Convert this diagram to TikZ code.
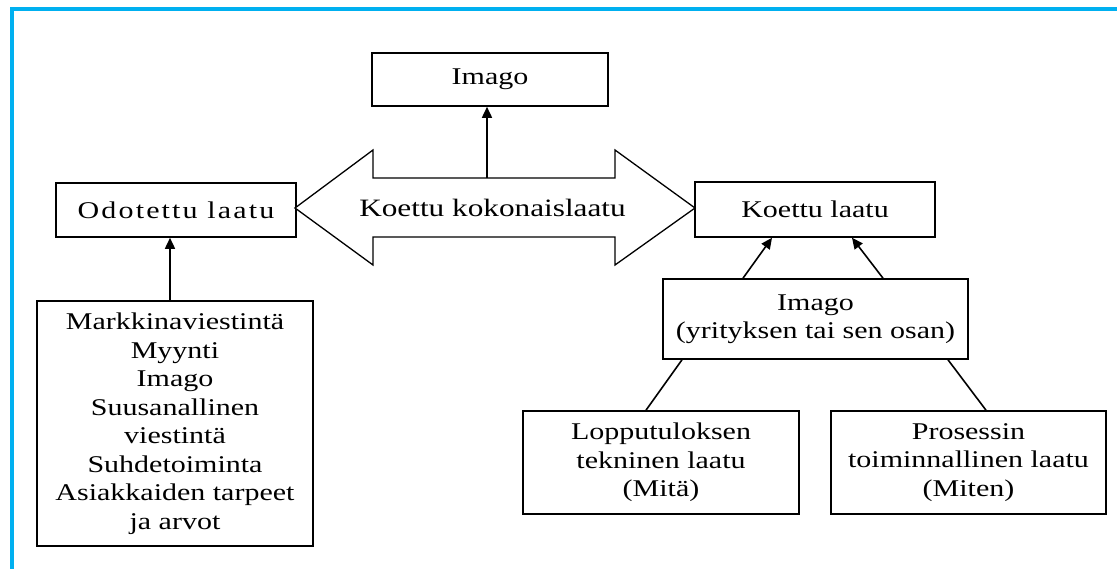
\documentclass[tikz,border=0pt]{standalone}
\usepackage{fontspec}
\setmainfont{Liberation Serif}[FakeStretch=1.25]
\usetikzlibrary{arrows.meta,calc}
\definecolor{framecyan}{HTML}{00B0F0}
\begin{document}
\begin{tikzpicture}[x=1pt,y=-1pt,
  box/.style={draw=black,line width=1.6pt,rectangle,inner sep=0pt,align=center,
    font=\fontsize{24}{28.5}\selectfont},
  link/.style={draw=black,line width=1.6pt},
  arr/.style={link,-{Triangle[length=11pt,width=10pt]}},
  txt/.style={inner sep=0pt,align=center,font=\fontsize{25}{28.5}\selectfont}]
\useasboundingbox (0,0) rectangle (1117,569);
\fill[white] (0,0) rectangle (1117,569);
% frame
\draw[framecyan,line width=4pt] (11.5,571) -- (11.5,8.7) -- (1119,8.7);
% boxes
\node[box,minimum width=236pt,minimum height=53pt] (imgtop) at (490,79.5) {Imago};
\node[box,minimum width=240pt,minimum height=54pt] (odot) at (176,210) {\addfontfeature{LetterSpace=9}Odotettu laatu};
\node[box,minimum width=240pt,minimum height=55pt] (koettu) at (815,209.5) {Koettu laatu};
\node[box,minimum width=276pt,minimum height=245pt] (left) at (175,423.5)
  {Markkinaviestintä\\Myynti\\Imago\\Suusanallinen\\viestintä\\Suhdetoiminta\\Asiakkaiden tarpeet\\ja arvot};
\node[box,minimum width=305pt,minimum height=80pt] (imago2) at (815.5,319) {Imago\\(yrityksen tai sen osan)};
\node[box,minimum width=276pt,minimum height=103pt] (lopp) at (661,462.5) {Lopputuloksen\\tekninen laatu\\(Mitä)};
\node[box,minimum width=275pt,minimum height=103pt] (pros) at (968.5,462.5) {Prosessin\\toiminnallinen laatu\\(Miten)};
% double arrow
\coordinate (ltip) at (295,208);
\coordinate (rtip) at (695,208);
\draw[line width=1.3pt,fill=white,line join=miter]
  (ltip) -- (373,150) -- (373,178) -- (615,178) -- (615,150) -- (rtip)
  -- (615,265) -- (615,237) -- (373,237) -- (373,265) -- cycle;
\node[txt] (koko) at (492.5,208) {Koettu kokonaislaatu};
\coordinate (shafttop) at (487,178);
% connectors
\draw[arr] (shafttop) -- (shafttop |- imgtop.south);
\draw[arr] ([xshift=-5pt]left.north) -- ([xshift=-5pt]left.north |- odot.south);
\draw[arr] ([xshift=-72.5pt]imago2.north) -- ([xshift=-43pt]koettu.south);
\draw[arr] ([xshift=67.5pt]imago2.north) -- ([xshift=37pt]koettu.south);
\draw[link] ([xshift=-133.5pt]imago2.south) -- ([xshift=-15pt]lopp.north);
\draw[link] ([xshift=132.5pt]imago2.south) -- ([xshift=17.5pt]pros.north);
\end{tikzpicture}
\end{document}
